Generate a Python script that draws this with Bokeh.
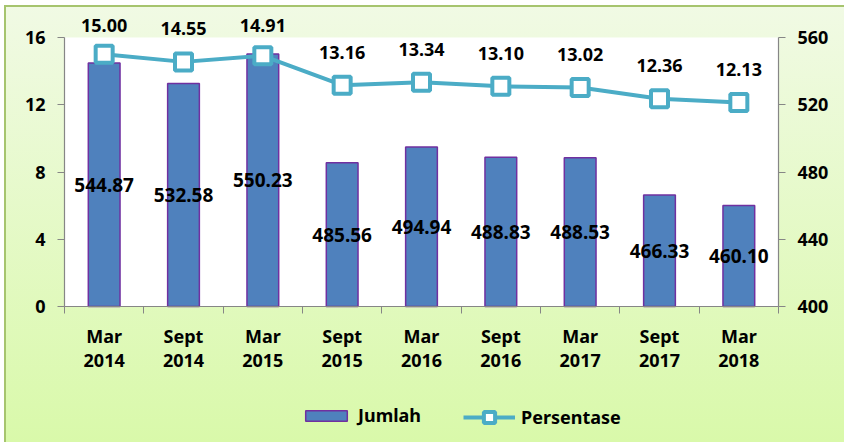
from bokeh.plotting import figure
from bokeh.models import (Range1d, LinearAxis, FixedTicker, ColumnDataSource,
                          LabelSet, Legend, LegendItem, BoxAnnotation)
from bokeh.core.properties import value
from bokeh.embed import file_html
from bokeh.resources import INLINE

# ---- data ----
months = ["Mar", "Sept", "Mar", "Sept", "Mar", "Sept", "Mar", "Sept", "Mar"]
years = ["2014", "2014", "2015", "2015", "2016", "2016", "2017", "2017", "2018"]
jumlah = [544.87, 532.58, 550.23, 485.56, 494.94, 488.83, 488.53, 466.33, 460.10]
persentase = [15.00, 14.55, 14.91, 13.16, 13.34, 13.10, 13.02, 12.36, 12.13]
left_ticks = [0, 4, 8, 12, 16]
right_ticks = [400, 440, 480, 520, 560]

FONT = "Noto Sans"
W, H = 844, 442
n = len(months)
xs = list(range(n))

# pixel layout of the plotting area inside the canvas
PX_L, PX_R, PX_T, PX_B = 64, 778, 37, 306
x0, x1 = -0.5, n - 0.5
y0, y1 = left_ticks[0], left_ticks[-1]
r0, r1 = right_ticks[0], right_ticks[-1]
sx = (x1 - x0) / (PX_R - PX_L)
sy = (y1 - y0) / (PX_B - PX_T)
k = (r1 - r0) / (y1 - y0)
xr = Range1d(x0 - PX_L * sx, x1 + (W - PX_R) * sx)
yr_ = Range1d(y0 - (H - PX_B) * sy, y1 + PX_T * sy)
rr = Range1d(r0 + (yr_.start - y0) * k, r0 + (yr_.end - y0) * k)

src = ColumnDataSource(dict(
    x=xs, month=months, year=years, jumlah=jumlah, pct=persentase,
    jlabel=[f"{v:.2f}" for v in jumlah],
    plabel=[f"{v:.2f}" for v in persentase],
    jmid=[(r0 + v) / 2 for v in jumlah],
    plab_y=[min(v + 33 * sy, y1 + 12 * sy) for v in persentase],
    my=[y0 - 29 * sy] * n, yy=[y0 - 54 * sy] * n,
))

p = figure(width=W, height=H, x_range=xr, y_range=yr_,
           output_backend="svg", toolbar_location=None,
           min_border_left=0, min_border_right=0, min_border_top=0,
           min_border_bottom=0, x_axis_type=None, y_axis_type=None)
p.extra_y_ranges = {"right": rr}
p.outline_line_color = None
p.border_fill_color = None
p.background_fill_color = None
p.grid.visible = False
p.styles = {"background": "linear-gradient(to bottom, #F1FAE5 0%, #D9F9AA 100%)",
            "box-shadow": "inset 4px 5px 0 #FFFFFF, inset 6px 7px 0 #A6C46E"}

# white plotting area
p.add_layout(BoxAnnotation(left=x0, right=x1, bottom=y0, top=y1,
                           fill_color="white", fill_alpha=1,
                           line_color=None, level="underlay"))

AX = "#868686"

def style_axis(ax):
    ax.axis_line_color = AX
    ax.axis_line_width = 1.2
    ax.major_tick_line_color = AX
    ax.minor_tick_line_color = AX
    ax.major_tick_in = 0
    ax.major_tick_out = 7
    ax.minor_tick_in = 0
    ax.minor_tick_out = 0
    ax.major_label_text_font = FONT
    ax.major_label_text_font_style = "bold"
    ax.major_label_text_font_size = "18px"
    ax.major_label_text_color = "black"
    ax.major_label_standoff = 12

yl = LinearAxis(ticker=FixedTicker(ticks=left_ticks), fixed_location=x0,
                bounds=(y0, y1))
style_axis(yl)
p.add_layout(yl, "left")

yr = LinearAxis(y_range_name="right", ticker=FixedTicker(ticks=right_ticks),
                fixed_location=x1, bounds=(r0, r1))
style_axis(yr)
p.add_layout(yr, "right")

xa = LinearAxis(ticker=FixedTicker(ticks=[], minor_ticks=[i - 0.5 for i in range(n + 1)]),
                fixed_location=y0, bounds=(x0, x1))
style_axis(xa)
xa.minor_tick_out = 7
xa.major_label_text_font_size = "0px"
p.add_layout(xa, "below")

BAR_FILL, BAR_LINE, LINE_C = "#4F81BD", "#7030A0", "#4BACC6"
bars = p.vbar(x="x", top="jumlah", bottom=r0, width=0.4,
              y_range_name="right", fill_color=BAR_FILL,
              line_color=BAR_LINE, line_width=1.5, source=src)
line = p.line("x", "pct", line_color=LINE_C, line_width=4, source=src)
marks = p.scatter("x", "pct", marker="square", size=17, fill_color="white",
                  line_color=LINE_C, line_width=4, source=src)

common = dict(text_font=value(FONT), text_font_style=value("bold"),
              text_color="black", text_align="center",
              text_baseline="middle", source=src)
p.add_layout(LabelSet(x="x", y="jmid", text="jlabel", y_range_name="right",
                      text_font_size="19px", **common))
p.add_layout(LabelSet(x="x", y="plab_y", text="plabel",
                      text_font_size="18px", **common))
p.add_layout(LabelSet(x="x", y="my", text="month",
                      text_font_size="18px", **common))
p.add_layout(LabelSet(x="x", y="yy", text="year",
                      text_font_size="18px", **common))

leg_style = dict(orientation="horizontal", padding=0, margin=0,
                 label_standoff=6, glyph_width=52,
                 label_text_font=FONT, label_text_font_style="bold",
                 label_text_font_size="18px", label_text_color="black",
                 border_line_color=None, background_fill_alpha=0)
leg1 = Legend(items=[LegendItem(label="Jumlah", renderers=[bars])],
              location=(300, 15), glyph_height=13, **leg_style)
leg2 = Legend(items=[LegendItem(label="Persentase", renderers=[line, marks])],
              location=(463, 11), glyph_height=28, **leg_style)
p.add_layout(leg1, "center")
p.add_layout(leg2, "center")

open("out.html", "w").write(file_html(p, INLINE))
